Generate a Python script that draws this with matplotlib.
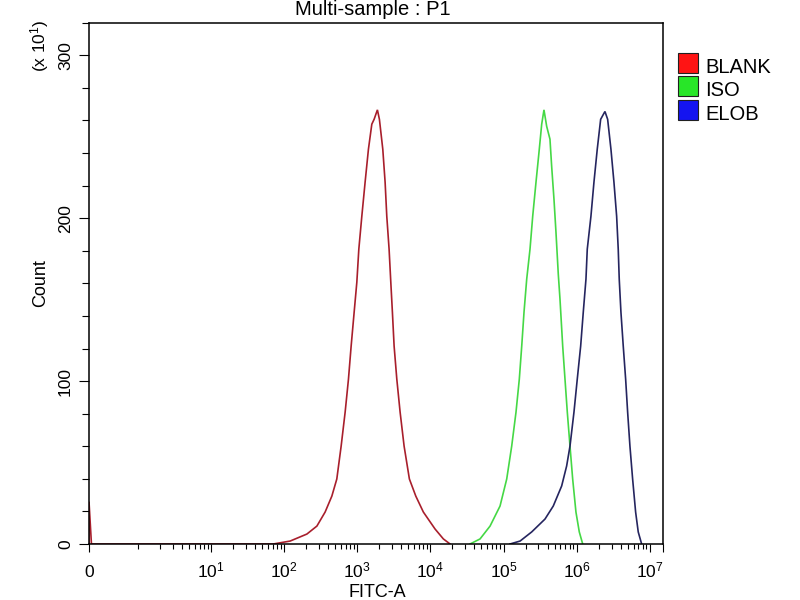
import matplotlib
matplotlib.use("Agg")
import matplotlib.pyplot as plt
from matplotlib.patches import Rectangle

plt.rcParams['font.family'] = 'Liberation Sans'
plt.rcParams['mathtext.fontset'] = 'custom'
plt.rcParams['mathtext.rm'] = 'Liberation Sans'
plt.rcParams['mathtext.it'] = 'Liberation Sans'
plt.rcParams['mathtext.bf'] = 'Liberation Sans'
plt.rcParams['mathtext.default'] = 'regular'

# samples / legend
sample_names = ["BLANK", "ISO", "ELOB"]
line_colors = ["#a81f2c", "#45d845", "#25255f"]
legend_colors = ["#ff1414", "#28e628", "#1414f0"]

# FITC-A values and counts (axis unit: x 10^1)
blank_x = [0, 0, 0.05, 71, 121, 205, 281, 364, 450, 526, 603, 684, 759, 826, 908,
           988, 1052, 1156, 1282, 1423, 1583, 1702, 1888, 2011, 2237, 2406, 2536,
           2727, 2878, 3027, 3194, 3477, 3857, 4374, 5167, 6321, 8023, 11590,
           15060, 18590]
blank_count = [0, 26, 0, 0, 1.8, 6.1, 11.0, 19.6, 29.4, 39.9, 60.1, 81.0, 101.2,
               121.5, 142.3, 160.7, 181.0, 201.2, 222.1, 242.3, 257.7, 260.7,
               266.5, 260.7, 242.3, 222.1, 201.2, 181.0, 160.7, 142.3, 121.5,
               101.2, 81.0, 60.1, 39.9, 29.4, 19.6, 9.2, 3.1, 0]

iso_x = [34830, 47750, 65460, 89600, 110600, 129400, 148200, 164400, 177400,
         190600, 207500, 230200, 250600, 278000, 308300, 332600, 357300, 389000,
         431500, 455000, 489500, 521200, 560700, 591600, 644100, 692400, 744500,
         810500, 881800, 977500, 1086000, 1209000]
iso_count = [0, 3.1, 11.0, 23.3, 39.9, 60.1, 81.0, 101.2, 121.5, 142.3, 162.6,
             181.0, 201.2, 222.1, 242.3, 257.7, 266.5, 256.4, 248.5, 231.9, 211.7,
             191.4, 165.6, 150.3, 121.5, 101.2, 81.0, 60.1, 39.9, 19.6, 7.4, 0]

elob_x = [122700, 168300, 242700, 368800, 478600, 623300, 729400, 810500, 918800,
          1019000, 1134000, 1231000, 1340000, 1396000, 1567000, 1723000, 1911000,
          2128000, 2436000, 2651000, 2942000, 3233000, 3519000, 3700000, 3819000,
          4029000, 4333000, 4672000, 4974000, 5348000, 5820000, 6397000, 6945000,
          7731000]
elob_count = [0, 1.8, 7.4, 15.3, 23.3, 35.6, 47.9, 60.1, 81.0, 101.2, 121.5, 142.3,
              162.6, 181.0, 201.2, 222.1, 242.3, 260.7, 265.5, 260.7, 242.3, 222.1,
              201.2, 181.0, 162.6, 142.3, 121.5, 101.2, 81.0, 60.1, 39.9, 19.6, 7.4, 0]

x_major = [0, 1e1, 1e2, 1e3, 1e4, 1e5, 1e6, 1e7]
x_labels = ["0"] + [f"$10^{{{k}}}$" for k in range(1, 8)]
y_major = [0, 100, 200, 300]
X_MAX = 1.5e7
Y_MAX = 320

fig = plt.figure(figsize=(8, 6), dpi=100)
ax = fig.add_axes([89 / 800, 1 - 544 / 600, (662.7 - 89) / 800, (544 - 22.7) / 600])

series = [(blank_x, blank_count), (iso_x, iso_count), (elob_x, elob_count)]
for (xs, ys), color in zip(series, line_colors):
    ax.plot(xs, ys, color=color, linewidth=1.2, solid_joinstyle="miter")

ax.set_xscale("symlog", linthresh=1, linscale=0.6)
ax.set_xlim(0, X_MAX)
ax.set_ylim(0, Y_MAX)

# x ticks (end tick at the right edge too)
ax.set_xticks(x_major + [X_MAX])
ax.set_xticklabels(x_labels + [""])
minor_x = list(range(1, 10)) + [m * 10 ** k for k in range(1, 7) for m in range(2, 10)]
ax.set_xticks(minor_x, minor=True)
ax.tick_params(axis="x", which="major", direction="out", length=6, width=0.8,
               pad=18, labelsize=12.5)
ax.tick_params(axis="x", which="minor", direction="out", length=3.6, width=0.8)
for lab in ax.get_xticklabels():
    lab.set_verticalalignment("baseline")

# y ticks
ax.set_yticks(y_major)
ax.set_yticks(list(range(20, Y_MAX + 1, 20)), minor=True)
ax.tick_params(axis="y", which="major", direction="out", length=7.2, width=0.8,
               pad=4.3, labelsize=12.5, labelrotation=90)
ax.tick_params(axis="y", which="minor", direction="out", length=4.8, width=0.8)
for lab in ax.get_yticklabels():
    lab.set_verticalalignment("center")

for sp in ax.spines.values():
    sp.set_linewidth(1.1)
    sp.set_color("black")

fig.text(373 / 800, 1 - 15 / 600, "Multi-sample : P1", ha="center", va="baseline",
         fontsize=14.5)
fig.text(377 / 800, 1 - 597 / 600, "FITC-A", ha="center", va="baseline", fontsize=13)
fig.text(41 / 800, 1 - 283 / 600, "Count", rotation=90, ha="center", va="center",
         fontsize=13)
fig.text(40 / 800, 1 - 46 / 600, "(x 10$^{1}$)", rotation=90, ha="center",
         va="center", fontsize=12.5)

# legend
for i, (name, color) in enumerate(zip(sample_names, legend_colors)):
    top = 53 + i * 23.3
    fig.add_artist(Rectangle((678 / 800, 1 - (top + 20) / 600), 20 / 800, 20 / 600,
                             transform=fig.transFigure, facecolor=color,
                             edgecolor="#202020", linewidth=0.8))
    fig.text(705 / 800, 1 - (top + 20) / 600, name, ha="left", va="baseline",
             fontsize=14.5)

fig.savefig("out.png", dpi=100, facecolor="white")
